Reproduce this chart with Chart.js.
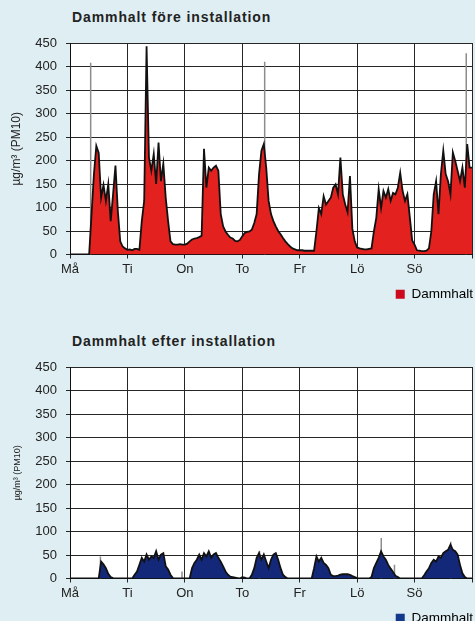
<!DOCTYPE html>
<html>
<head>
<meta charset="utf-8">
<script src="https://cdn.jsdelivr.net/npm/chart.js@4.4.1/dist/chart.umd.min.js"></script>
<style>
    body { margin: 0; background: #dfeef2; width: 475px; height: 621px; overflow: hidden; position: relative; font-family: "Liberation Sans", Arial, sans-serif; }
    .title { position: absolute; left: 72px; font-weight: bold; font-size: 14px; color: #222; letter-spacing: 0.9px; }
    .box { position: absolute; left: 0; width: 475px; }
</style>
</head>
<body>
<div class="title" style="top:9px">Dammhalt före installation</div>
<div class="box" style="top:0; height:311px"><canvas id="before"></canvas></div>
<div class="title" style="top:333px">Dammhalt efter installation</div>
<div class="box" style="top:310px; height:330px"><canvas id="after"></canvas></div>
<script>
// ==============================================================
// data (one value per hour, Må 00:00 .. Sö 24:00)
// ==============================================================
const dayLabels = ['Må', 'Ti', 'On', 'To', 'Fr', 'Lö', 'Sö', ''];
const yTicks = [0, 50, 100, 150, 200, 250, 300, 350, 400, 450];

const beforeValues = [
    0, 0, 0, 0, 0, 0, 0, 0, 0, 86, 171, 231, 216, 121, 148, 114, 150, 71, 128, 189, 92, 28, 17, 13,          // Må
    10, 11, 9, 12, 12, 10, 71, 114, 443, 206, 178, 214, 150, 238, 156, 193, 121, 71, 28, 22, 21, 21, 22, 21,  // Ti
    21, 23, 28, 32, 34, 35, 37, 40, 225, 142, 185, 178, 185, 189, 178, 86, 60, 49, 42, 36, 34, 29, 28, 31,    // On
    39, 46, 48, 49, 53, 67, 86, 171, 221, 235, 185, 114, 86, 71, 60, 50, 43, 35, 28, 22, 17, 13, 11, 9,       // To
    9, 9, 8, 8, 8, 8, 8, 50, 99, 86, 124, 106, 114, 121, 142, 149, 128, 206, 128, 107, 90, 167, 55, 28,       // Fr
    15, 13, 12, 11, 11, 12, 13, 49, 78, 139, 99, 135, 121, 139, 114, 131, 128, 142, 174, 135, 114, 128, 80, 30, // Lö
    21, 9, 8, 7, 7, 8, 13, 49, 128, 156, 86, 171, 221, 171, 156, 128, 217, 199, 178, 156, 185, 142, 235, 185, // Sö
    185
];
const beforeSpikeAt = [0.36, 3.39, 6.9];
const beforeSpikeValues = [408, 410, 428];

const afterValues = [
    0, 0, 0, 0, 0, 0, 0, 0, 0, 0, 0, 0, 0, 36, 30, 22, 10, 3, 1, 0, 0, 0, 0, 0,           // Må
    0, 0, 0, 8, 15, 29, 44, 36, 51, 40, 47, 44, 58, 40, 51, 54, 26, 19, 8, 1, 0, 0, 0, 0,   // Ti
    0, 0, 0, 22, 33, 40, 51, 40, 54, 47, 58, 44, 51, 54, 44, 36, 26, 15, 8, 4, 3, 2, 1, 0,  // On
    3, 2, 0, 0, 8, 22, 44, 54, 40, 51, 36, 22, 40, 51, 54, 40, 22, 8, 3, 0, 0, 0, 0, 0,     // To
    0, 0, 0, 0, 0, 0, 22, 47, 36, 44, 33, 29, 22, 8, 5, 5, 6, 8, 9, 9, 9, 8, 5, 3,          // Fr
    1, 0, 0, 0, 0, 0, 3, 22, 33, 44, 58, 47, 40, 29, 21, 14, 6, 3, 0, 0, 0, 0, 0, 0,        // Lö
    0, 0, 0, 0, 7, 15, 22, 33, 40, 36, 47, 44, 54, 58, 61, 72, 61, 58, 51, 29, 11, 3, 0, 0, // Sö
    0
];
const afterSpikeAt = [0.53, 1.95, 3.3, 5.42, 5.65, 6.63];
const afterSpikeValues = [47, 15, 59, 86, 29, 78];

// white plot background
const plotBg = {
    id: 'plotBg',
    beforeDraw(chart) {
        let a = chart.chartArea;
        chart.ctx.save();
        chart.ctx.fillStyle = '#ffffff';
        chart.ctx.fillRect(a.left, a.top, a.right - a.left, a.bottom - a.top);
        chart.ctx.restore();
    }
};

function makeChart(id, values, spikeAt, spikeValues, fillColor, legendColor, yTitleSize, yTitlePad, topPad, bottomPad) {
    let points = values.map((v, i) => ({ x: i / 24, y: v }));
    let spikes = [];
    spikeAt.forEach((x, i) => {
        spikes.push({ x: x, y: 0 }, { x: x, y: spikeValues[i] }, { x: x, y: null });
    });

    let font = '"Liberation Sans", Arial, sans-serif';
    let gridColor = '#262626';
    return new Chart(document.getElementById(id), {
        type: 'line',
        data: {
            datasets: [{
                label: 'Dammhalt',
                data: points,
                borderColor: '#111111',
                borderWidth: 1.8,
                backgroundColor: fillColor,
                fill: 'origin',
                pointRadius: 0,
                tension: 0,
                order: 0
            }, {
                label: 'spikes',
                data: spikes,
                borderColor: '#8c8c8c',
                borderWidth: 1.5,
                fill: false,
                pointRadius: 0,
                spanGaps: false,
                order: 1
            }]
        },
        options: {
            responsive: true,
            maintainAspectRatio: false,
            animation: false,
            layout: { padding: { top: topPad, right: 1, bottom: bottomPad } },
            plugins: {
                tooltip: { enabled: false },
                legend: {
                    position: 'bottom',
                    align: 'end',
                    labels: {
                        boxWidth: 9,
                        boxHeight: 9,
                        padding: 1,
                        color: '#222',
                        font: { family: font, size: 13.5 },
                        generateLabels: () => [{
                            text: 'Dammhalt',
                            fillStyle: legendColor,
                            strokeStyle: legendColor,
                            lineWidth: 0,
                            datasetIndex: 0
                        }]
                    }
                }
            },
            scales: {
                x: {
                    type: 'linear',
                    min: 0,
                    max: 7,
                    afterFit: scale => { scale.height = 32; },
                    grid: { color: gridColor, tickLength: 4, tickColor: gridColor },
                    border: { color: '#111' },
                    ticks: {
                        stepSize: 1,
                        autoSkip: false,
                        maxRotation: 0,
                        padding: 3,
                        color: '#222',
                        font: { family: font, size: 13 },
                        callback: v => dayLabels[v] || ''
                    }
                },
                y: {
                    min: 0,
                    max: 450,
                    afterBuildTicks: scale => { scale.ticks = yTicks.map(v => ({ value: v })); },
                    afterFit: scale => { scale.width = 70; },
                    grid: { color: gridColor, tickLength: 4, tickColor: gridColor },
                    border: { color: '#111' },
                    ticks: {
                        padding: 9,
                        color: '#222',
                        font: { family: font, size: 13 }
                    },
                    title: {
                        display: true,
                        text: 'µg/m³ (PM10)',
                        color: '#222',
                        padding: { top: yTitlePad, bottom: 0 },
                        font: { family: font, size: yTitleSize }
                    }
                }
            }
        },
        plugins: [plotBg]
    });
}

makeChart('before', beforeValues, beforeSpikeAt, beforeSpikeValues, '#e3211f', '#cc0a1e', 12, 9, 43, 0);
makeChart('after', afterValues, afterSpikeAt, afterSpikeValues, '#14287a', '#12398c', 9, 12, 57, 5);
</script>
</body>
</html>
